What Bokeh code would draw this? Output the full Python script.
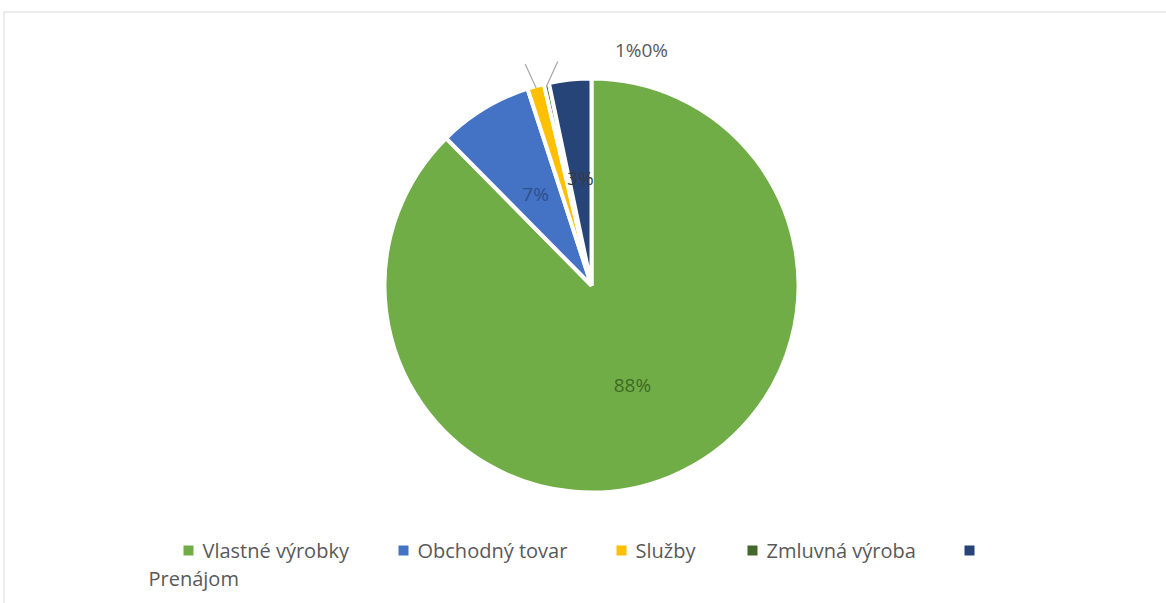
import math
from bokeh.plotting import figure
from bokeh.models import Range1d, ColumnDataSource
from bokeh.core.properties import value
from bokeh.embed import file_html
from bokeh.resources import INLINE

# ---- data ----
categories = ["Vlastné výrobky", "Obchodný tovar", "Služby", "Zmluvná výroba", "Prenájom"]
shares = [87.6, 7.4, 1.3, 0.4, 3.3]
labels = ["88%", "7%", "1%", "0%", "3%"]
colors = ["#70AD47", "#4472C4", "#FFC000", "#43682B", "#264478"]
label_colors = ["#3E6B22", "#2F4F8C", "#595959", "#595959", "#3a3a3a"]

W, H = 1166, 603
FONT = "Open Sans"

p = figure(width=W, height=H, x_range=Range1d(0, W), y_range=Range1d(0, H),
           output_backend="svg", toolbar_location=None, min_border=0)
p.axis.visible = False
p.grid.visible = False
p.outline_line_color = None
p.background_fill_color = "white"

def Y(y):
    return H - y

# chart border
p.line(x=[3.5, 3.5, W + 5], y=[Y(H + 5), Y(11.5), Y(11.5)], line_color="#d9d9d9", line_width=1)

# pie
cx, cy, R = 591, 285, 207
total = sum(shares)
cum = 0.0
starts, ends, mids = [], [], []
for s in shares:
    a0 = cum / total * 2 * math.pi
    cum += s
    a1 = cum / total * 2 * math.pi
    starts.append(a0); ends.append(a1); mids.append((a0 + a1) / 2)

src = ColumnDataSource(dict(
    x=[cx] * len(shares), y=[Y(cy)] * len(shares),
    start=[math.pi / 2 - e for e in ends],
    end=[math.pi / 2 - s for s in starts],
    color=colors,
))
p.wedge(x="x", y="y", radius=R, radius_units="screen", start_angle="start", end_angle="end",
        fill_color="color", line_color="white", line_width=4, source=src)

# inside labels (88%, 7%, 3%)
inside = [0, 1, 4]
fr = {0: 0.52, 1: 0.52, 4: 0.52}
lx, ly, lt, lc = [], [], [], []
for i in inside:
    d = R * fr[i]
    lx.append(cx + d * math.sin(mids[i]))
    ly.append(Y(cy - d * math.cos(mids[i])))
    lt.append(labels[i]); lc.append(label_colors[i])
p.text(x=lx, y=ly, text=lt, text_color=lc, text_font=value(FONT), text_font_size="19px",
       text_align="center", text_baseline="middle")

# outside labels 1% and 0% with leader lines
for i, sign in ((2, -1), (3, 1)):
    a = mids[i]
    x0 = cx + (R - 2) * math.sin(a)
    y0 = cy - (R - 2) * math.cos(a)
    p.line(x=[x0, x0 + sign * 11], y=[Y(y0), Y(y0 - 24)], line_color="#a6a6a6", line_width=1.2)
p.text(x=[641], y=[Y(49)], text=[labels[2] + labels[3]], text_color="#595959",
       text_font=value(FONT), text_font_size="19px", text_align="center", text_baseline="middle")

# legend
sq_x = [188, 403, 621, 752, 969]
p.rect(x=sq_x, y=[Y(550)] * 5, width=10, height=10, width_units="screen", height_units="screen",
       fill_color=colors, line_color=None)
p.text(x=[s + 14 for s in sq_x[:4]], y=[Y(550)] * 4, text=categories[:4], text_color="#595959",
       text_font=value(FONT), text_font_size="20px", text_baseline="middle")
p.text(x=[148], y=[Y(578)], text=[categories[4]], text_color="#595959",
       text_font=value(FONT), text_font_size="20px", text_baseline="middle")

open("out.html", "w").write(file_html(p, INLINE))
